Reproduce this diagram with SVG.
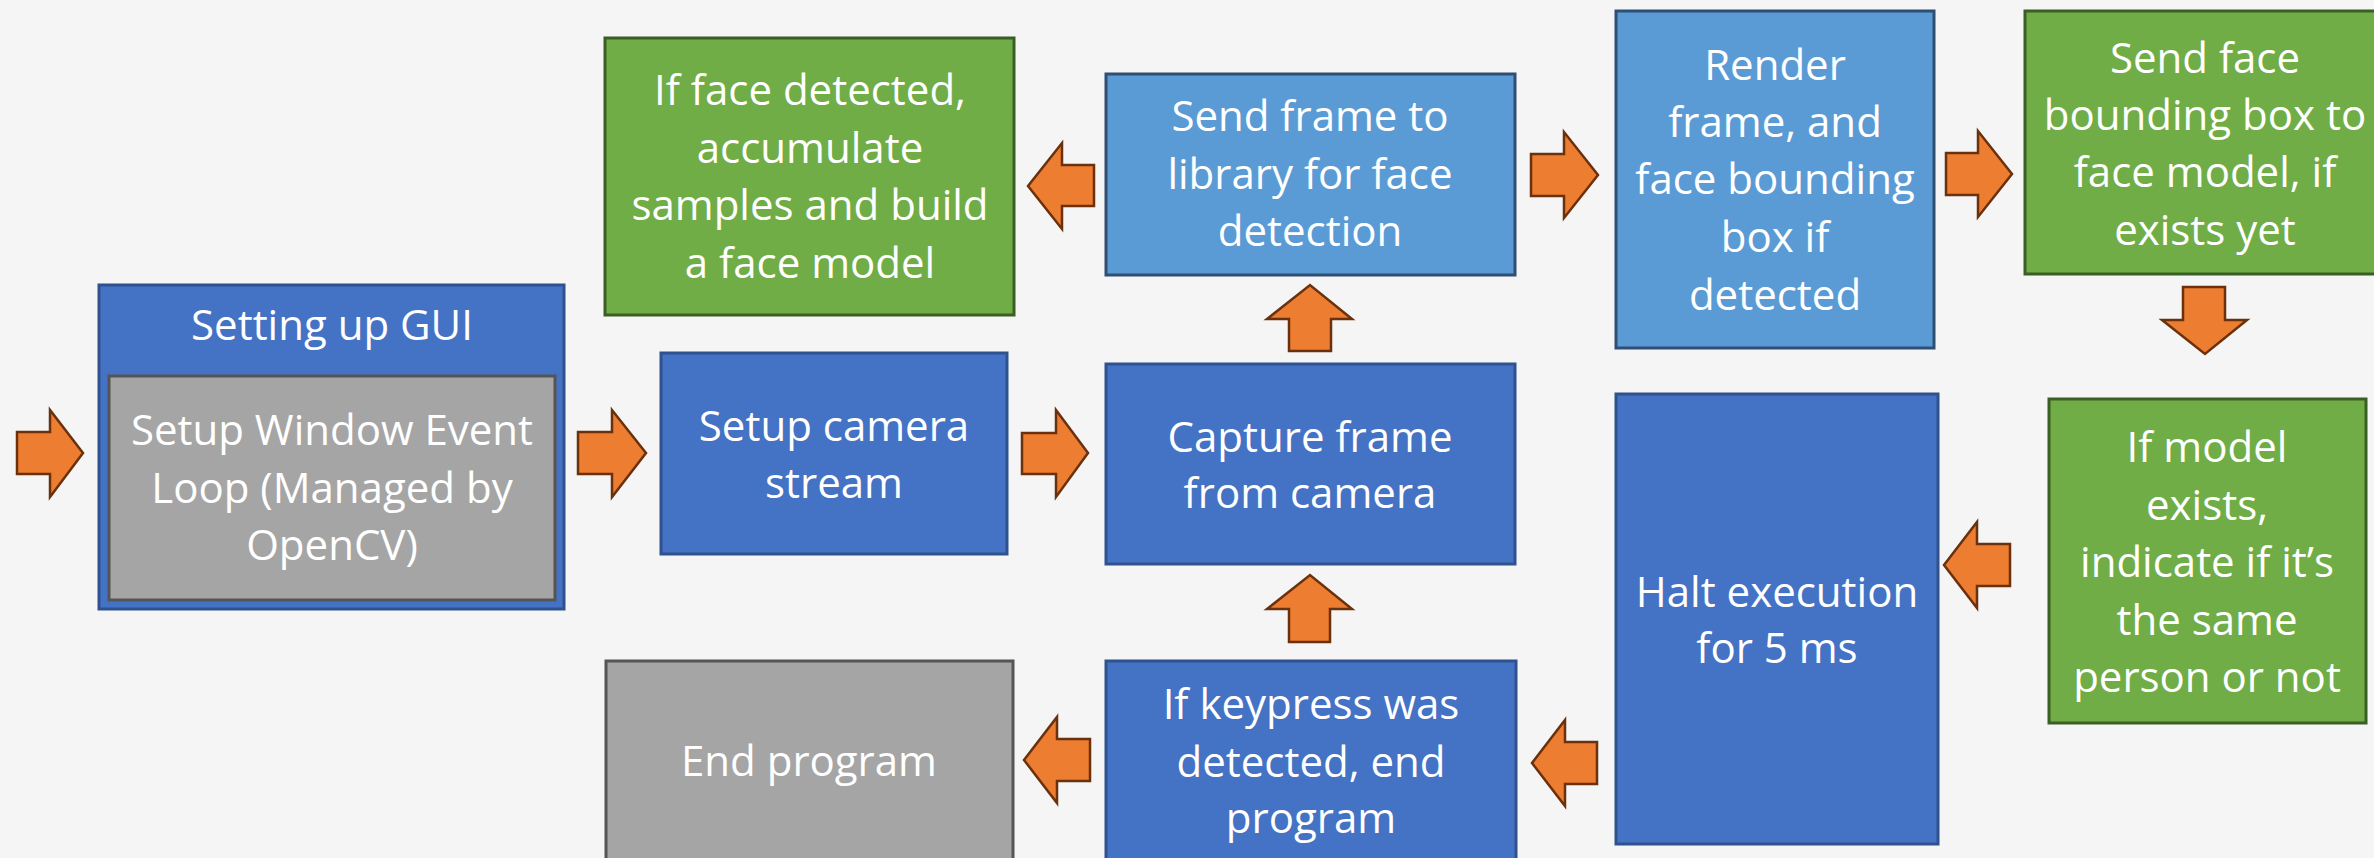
<svg xmlns="http://www.w3.org/2000/svg" width="2374" height="858" viewBox="0 0 2374 858">
<style>
.bg{fill:#F5F5F5}
.dk{fill:#4472C4;stroke:#2F528F;stroke-width:3}
.lt{fill:#5B9BD5;stroke:#2E4F73;stroke-width:3}
.gr{fill:#70AD47;stroke:#3B5E24;stroke-width:3}
.gy{fill:#A5A5A5;stroke:#555555;stroke-width:3}
.arr{fill:#ED7D31;stroke:#6B300C;stroke-width:2.5;stroke-linejoin:miter}
text{font-family:"Open Sans","Noto Sans","Liberation Sans",sans-serif;font-size:42px;fill:#FFFFFF;text-anchor:middle}
</style>
<rect class="bg" x="0" y="0" width="2374" height="858"/>
<g id="gui">
<rect class="dk" x="99" y="285" width="465" height="324"/>
<text x="332" y="340">Setting up GUI</text>
</g>
<g id="window-loop">
<rect class="gy" x="109" y="376" width="446" height="224"/>
<text x="332" y="445">Setup Window Event</text>
<text x="332" y="503">Loop (Managed by</text>
<text x="332" y="560">OpenCV)</text>
</g>
<g id="accumulate">
<rect class="gr" x="605" y="38" width="409" height="277"/>
<text x="810" y="105">If face detected,</text>
<text x="810" y="163">accumulate</text>
<text x="810" y="220">samples and build</text>
<text x="810" y="278">a face model</text>
</g>
<g id="send-frame">
<rect class="lt" x="1106" y="74" width="409" height="201"/>
<text x="1310" y="131">Send frame to</text>
<text x="1310" y="189">library for face</text>
<text x="1310" y="246">detection</text>
</g>
<g id="render">
<rect class="lt" x="1616" y="11" width="318" height="337"/>
<text x="1775" y="80">Render</text>
<text x="1775" y="137">frame, and</text>
<text x="1775" y="194">face bounding</text>
<text x="1775" y="252">box if</text>
<text x="1775" y="310">detected</text>
</g>
<g id="send-bbox">
<rect class="gr" x="2025" y="11" width="362" height="263"/>
<text x="2205" y="73">Send face</text>
<text x="2205" y="130">bounding box to</text>
<text x="2205" y="187">face model, if</text>
<text x="2205" y="245">exists yet</text>
</g>
<g id="setup-camera">
<rect class="dk" x="661" y="353" width="346" height="201"/>
<text x="834" y="441">Setup camera</text>
<text x="834" y="498">stream</text>
</g>
<g id="capture">
<rect class="dk" x="1106" y="364" width="409" height="200"/>
<text x="1310" y="452">Capture frame</text>
<text x="1310" y="508">from camera</text>
</g>
<g id="halt">
<rect class="dk" x="1616" y="394" width="322" height="450"/>
<text x="1777" y="607">Halt execution</text>
<text x="1777" y="663">for 5 ms</text>
</g>
<g id="compare">
<rect class="gr" x="2049" y="399" width="317" height="324"/>
<text x="2207" y="462">If model</text>
<text x="2207" y="520">exists,</text>
<text x="2207" y="577">indicate if it’s</text>
<text x="2207" y="635">the same</text>
<text x="2207" y="692">person or not</text>
</g>
<g id="end-program">
<rect class="gy" x="606" y="661" width="407" height="210"/>
<text x="809" y="776">End program</text>
</g>
<g id="keypress">
<rect class="dk" x="1106" y="661" width="410" height="210"/>
<text x="1311" y="719">If keypress was</text>
<text x="1311" y="777">detected, end</text>
<text x="1311" y="833">program</text>
</g>
<g id="connectors">
<path class="arr" d="M17,432 H50 V410 L83,453 L50,497 V474 H17 Z"/>
<path class="arr" d="M578,432 H612 V410 L646,453 L612,497 V474 H578 Z"/>
<path class="arr" d="M1022,433 H1056 V410 L1088,453 L1056,497 V474 H1022 Z"/>
<path class="arr" d="M1289,351 V319 H1267 L1310,285 L1352,319 H1331 V351 Z"/>
<path class="arr" d="M1094,165 H1062 V143 L1028,186 L1062,229 V206 H1094 Z"/>
<path class="arr" d="M1531,154 H1564 V132 L1598,175 L1564,218 V196 H1531 Z"/>
<path class="arr" d="M1946,153 H1978 V131 L2012,174 L1978,217 V195 H1946 Z"/>
<path class="arr" d="M2183,287 H2225 V320 H2247 L2205,354 L2162,320 H2183 Z"/>
<path class="arr" d="M2010,544 H1977 V522 L1944,565 L1977,608 V586 H2010 Z"/>
<path class="arr" d="M1597,742 H1565 V720 L1532,763 L1565,806 V784 H1597 Z"/>
<path class="arr" d="M1289,642 V609 H1267 L1310,575 L1352,609 H1330 V642 Z"/>
<path class="arr" d="M1090,739 H1057 V717 L1024,760 L1057,803 V781 H1090 Z"/>
</g>
</svg>
